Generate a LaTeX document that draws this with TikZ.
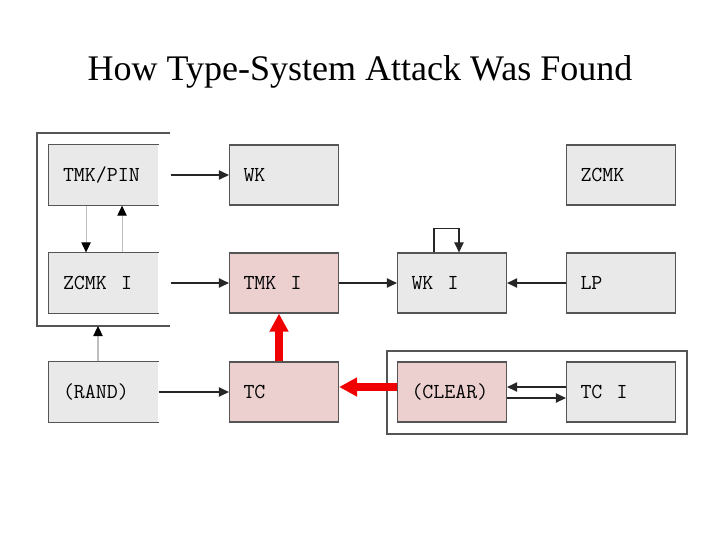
\documentclass[tikz,border=0pt]{standalone}
\usepackage{fontspec}
\setmainfont{Liberation Serif}
\usetikzlibrary{arrows.meta}
\definecolor{boxgray}{RGB}{233,233,233}
\definecolor{boxpink}{RGB}{236,208,208}
\definecolor{edgegray}{RGB}{85,85,85}
\definecolor{lightline}{RGB}{190,190,190}
\definecolor{attackred}{RGB}{240,0,0}
\begin{document}
\begin{tikzpicture}[x=0.75pt,y=-0.75pt,
  box/.style={rectangle, minimum width=81.75pt, minimum height=45pt,
    text width=60.75pt, inner xsep=10.5pt, align=left,
    font=\ttfamily\fontsize{16}{18}\selectfont, draw=edgegray, line width=0.9pt},
  graybox/.style={box, fill=boxgray},
  pinkbox/.style={box, fill=boxpink},
  openbox/.style={box, fill=boxgray, draw=none},
  frameline/.style={draw=edgegray, line width=0.9pt},
  link/.style={-{Triangle[length=7.5pt,width=7pt]}, line width=0.8pt, draw=black!85},
  lightlink/.style={-{Triangle[length=7.5pt,width=7pt,color=black]}, line width=0.8pt, draw=lightline},
  redlink/.style={-{Triangle[length=13.5pt,width=13.5pt]}, line width=6pt, draw=attackred}
]
\useasboundingbox (0,0) rectangle (720,540);
\fill[white] (0,0) rectangle (720,540);

\node[anchor=base, font=\fontsize{27}{30}\selectfont] (title) at (360,80) {How Type-System Attack Was Found};

% frames
\draw[frameline] (170,133) -- (37,133) -- (37,326) -- (170,326);
\coordinate (brk) at (98,326);
\draw[frameline] (387,351) rectangle (687,434);

% row 1
\node[openbox] (tmkpin) at (103.5,175) {TMK/PIN};
\node[graybox] (wk) at (284,175) {WK};
\node[graybox] (zcmk) at (621,175) {ZCMK};
% row 2
\node[openbox] (zcmki) at (103.5,283) {ZCMK\ \ I};
\node[pinkbox] (tmki) at (284,283) {TMK\ \ I};
\node[graybox] (wki) at (452,283) {WK\ \ I};
\node[graybox] (lp) at (621,283) {LP};
% row 3
\node[openbox] (rand) at (103.5,392) {(RAND)};
\node[pinkbox] (tc) at (284,392) {TC};
\node[pinkbox] (clear) at (452,392) {(CLEAR)};
\node[graybox] (tci) at (621,392) {TC\ \ I};

\foreach \n in {tmkpin,zcmki,rand}
  \draw[frameline] (\n.north east) -- (\n.north west) -- (\n.south west) -- (\n.south east);

% connectors
\draw[link] ([xshift=9pt]tmkpin.east) -- (wk.west);
\draw[link] ([xshift=9pt]zcmki.east) -- (tmki.west);
\draw[lightlink] ([xshift=-13.1pt]tmkpin.south) -- ([xshift=-13.1pt]zcmki.north);
\draw[lightlink] ([xshift=13.9pt]zcmki.north) -- ([xshift=13.9pt]tmkpin.south);
\draw[lightlink] (rand.north -| brk) -- (brk);
\draw[link] (rand.east) -- (tc.west);
\draw[link] (tmki.east) -- (wki.west);
\draw[link] (lp.west) -- (wki.east);
\draw[link] ([xshift=-13.5pt]wki.north) -- ++(0,-24) -| ([xshift=5.25pt]wki.north);
\draw[link] ([yshift=3.75pt]tci.west) -- ([yshift=3.75pt]clear.east);
\draw[link] ([yshift=-4.5pt]clear.east) -- ([yshift=-4.5pt]tci.west);
\draw[redlink] ([xshift=-3.75pt]tc.north) -- ([xshift=-3.75pt]tmki.south);
\draw[redlink] ([yshift=3.75pt]clear.west) -- ([yshift=3.75pt]tc.east);
\end{tikzpicture}
\end{document}
